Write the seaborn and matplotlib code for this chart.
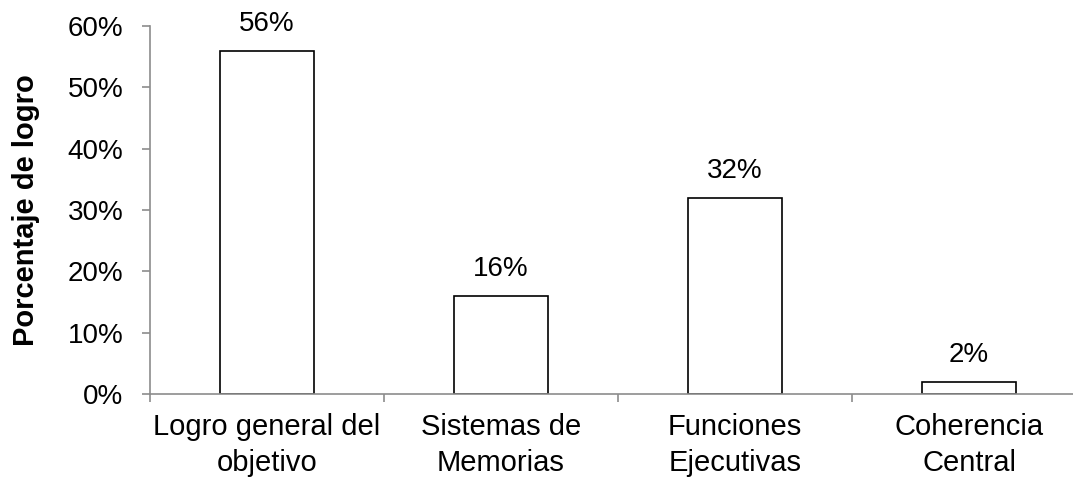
import matplotlib
matplotlib.use("Agg")
import matplotlib.pyplot as plt
import seaborn as sns
import pandas as pd
from matplotlib.ticker import FuncFormatter, FixedLocator

categorias = ["Logro general del\nobjetivo", "Sistemas de\nMemorias",
              "Funciones\nEjecutivas", "Coherencia\nCentral"]
porcentajes = [56, 16, 32, 2]
etiquetas = ["56%", "16%", "32%", "2%"]

sns.set_theme(style="white")
plt.rcParams["font.family"] = ["Liberation Sans", "DejaVu Sans"]

df = pd.DataFrame({"categoria": categorias, "porcentaje": porcentajes})

FS = 20
W, H = 1073, 479
fig = plt.figure(figsize=(W / 100, H / 100), dpi=100)
# axes spans x 150..1086 px (right end runs past the canvas), y 26..394 px
ax = fig.add_axes([150 / W, (H - 394) / H, 936 / W, 368 / H])

sns.barplot(data=df, x="categoria", y="porcentaje", ax=ax, color="white",
            edgecolor="black", linewidth=1.2, width=0.4, saturation=1)

ax.set_ylim(0, 60)
ax.set_xlim(-0.5, 3.5)
ax.set_yticks(range(0, 61, 10))
ax.yaxis.set_major_formatter(FuncFormatter(lambda v, p: f"{int(v)}%"))

# category boundary ticks on the x axis
ax.set_xticks([0, 1, 2, 3])
ax.xaxis.set_minor_locator(FixedLocator([-0.5, 0.5, 1.5, 2.5, 3.5]))
ax.tick_params(axis="x", which="major", bottom=False, length=0, pad=14,
               labelsize=21, colors="black")
ax.tick_params(axis="x", which="minor", bottom=True, length=6, width=1.2,
               color="#8c8c8c", direction="out")
ax.tick_params(axis="y", left=True, length=6, width=1.2, color="#8c8c8c",
               direction="out", labelsize=FS, pad=13, labelcolor="black")
for lbl in ax.get_xticklabels():
    lbl.set_linespacing(1.33)
    lbl.set_verticalalignment("top")

for side in ["top", "right"]:
    ax.spines[side].set_visible(False)
for side in ["left", "bottom"]:
    ax.spines[side].set_color("#8c8c8c")
    ax.spines[side].set_linewidth(1.2)

ax.set_xlabel("")
ax.set_ylabel("Porcentaje de logro", fontsize=21, fontweight="bold",
              color="black", labelpad=20)

for patch, val, txt in zip(ax.patches, porcentajes, etiquetas):
    cx = patch.get_x() + patch.get_width() / 2
    ax.annotate(txt, (cx, val), xytext=(0, 19), textcoords="offset points",
                ha="center", va="center", fontsize=FS, color="black")

for s in ax.spines.values():
    s.set_zorder(3)

fig.savefig("out.png", dpi=100)
